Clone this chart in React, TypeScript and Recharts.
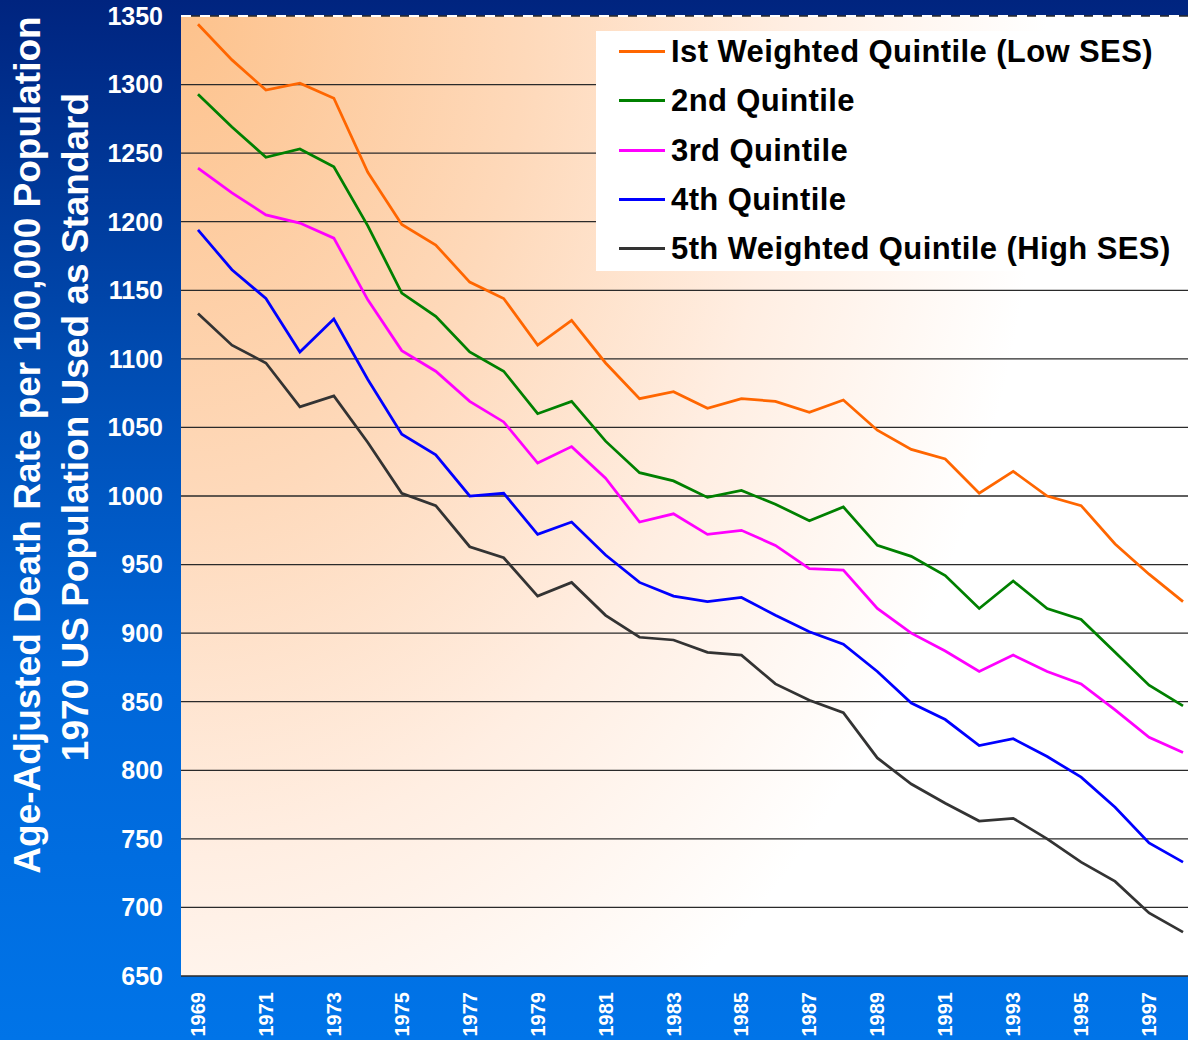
import React from 'react';
import { LineChart, Line, XAxis, YAxis, CartesianGrid, ReferenceLine } from 'recharts';

const years = [1969, 1970, 1971, 1972, 1973, 1974, 1975, 1976, 1977, 1978, 1979, 1980, 1981, 1982, 1983, 1984, 1985, 1986, 1987, 1988, 1989, 1990, 1991, 1992, 1993, 1994, 1995, 1996, 1997, 1998];

const q1 = [1344, 1318, 1296, 1301, 1290, 1236, 1198, 1183, 1156, 1144, 1110, 1128, 1097, 1071, 1076, 1064, 1071, 1069, 1061, 1070, 1048, 1034, 1027, 1002, 1018, 1000, 993, 965, 943, 923];
const q2 = [1293, 1269, 1247, 1253, 1240, 1197, 1148, 1131, 1105, 1091, 1060, 1069, 1040, 1017, 1011, 999, 1004, 994, 982, 992, 964, 956, 942, 918, 938, 918, 910, 886, 862, 847];
const q3 = [1239, 1221, 1205, 1199, 1188, 1143, 1106, 1091, 1069, 1054, 1024, 1036, 1013, 981, 987, 972, 975, 964, 947, 946, 918, 900, 887, 872, 884, 872, 863, 844, 824, 813];
const q4 = [1194, 1165, 1144, 1105, 1129, 1085, 1045, 1030, 1000, 1002, 972, 981, 957, 937, 927, 923, 926, 913, 901, 892, 872, 849, 837, 818, 823, 810, 795, 773, 747, 733];
const q5 = [1133, 1110, 1097, 1065, 1073, 1039, 1002, 993, 963, 955, 927, 937, 913, 897, 895, 886, 884, 863, 851, 842, 809, 790, 776, 763, 765, 750, 733, 719, 696, 682];

const seriesKeys = ['q1', 'q2', 'q3', 'q4', 'q5'];
const seriesNames = [
  'Ist Weighted Quintile (Low SES)',
  '2nd Quintile',
  '3rd Quintile',
  '4th Quintile',
  '5th Weighted Quintile (High SES)',
];
const seriesColors = ['#FF6600', '#008000', '#FF00FF', '#0000FF', '#333333'];

const yTicks = [650, 700, 750, 800, 850, 900, 950, 1000, 1050, 1100, 1150, 1200, 1250, 1300, 1350];
const xLabelYears = [1969, 1971, 1973, 1975, 1977, 1979, 1981, 1983, 1985, 1987, 1989, 1991, 1993, 1995, 1997];
const xDomain = [1968.5, 1998.5];
const xEdgeTicks = years.slice(0, -1).map((y) => y + 0.5);

const seriesValues = [q1, q2, q3, q4, q5];
const data = years.map((year, i) => {
  const row: any = { year };
  seriesKeys.forEach((k, s) => {
    row[k] = seriesValues[s][i];
  });
  return row;
});

const FONT = '"Liberation Sans", Arial, Helvetica, sans-serif';

const XTick = (props: any) => {
  const { x, y, payload } = props;
  return (
    <text
      x={x}
      y={y}
      transform={`rotate(-90, ${x}, ${y})`}
      textAnchor="end"
      dominantBaseline="central"
      fill="#ffffff"
      fontSize={20}
      fontWeight="bold"
      fontFamily={FONT}
    >
      {payload.value}
    </text>
  );
};

export default function App() {
  return (
    <div
      style={{
        position: 'absolute',
        left: 0,
        top: 0,
        width: 1188,
        height: 1040,
        overflow: 'hidden',
        background: 'linear-gradient(to bottom, #00247F 0%, #004CB2 35%, #0066D8 65%, #0074E8 100%)',
        fontFamily: FONT,
      }}
    >
      <svg width={0} height={0} style={{ position: 'absolute' }}>
        <defs>
          <radialGradient id="plotBg" cx="0" cy="0" r="1" gradientTransform="scale(0.85 1.25)">
            <stop offset="0" stopColor="#FDC28C" />
            <stop offset="0.4" stopColor="#FED9BA" />
            <stop offset="0.7" stopColor="#FFEEE2" />
            <stop offset="1" stopColor="#FFFFFF" />
          </radialGradient>
        </defs>
      </svg>

      <div style={{ position: 'absolute', left: 0, top: 0 }}>
        <LineChart width={1200} height={1040} data={data} margin={{ top: 16, right: 0, bottom: 0, left: 81 }}>
          <CartesianGrid
            xAxisId="main"
            yAxisId="main"
            vertical={false}
            stroke="#2a2a2a"
            strokeWidth={1.3}
            fill="url(#plotBg)"
            fillOpacity={1}
          />
          <XAxis
            xAxisId="edge"
            type="number"
            dataKey="year"
            domain={xDomain}
            ticks={xEdgeTicks}
            tick={false}
            tickSize={8}
            mirror
            height={0}
            axisLine={{ stroke: '#000', strokeWidth: 2.5 }}
            tickLine={{ stroke: '#000', strokeWidth: 1.3 }}
          />
          <XAxis
            xAxisId="main"
            type="number"
            dataKey="year"
            domain={xDomain}
            ticks={xLabelYears}
            interval={0}
            height={64}
            axisLine={false}
            tickLine={false}
            tickMargin={10}
            tick={<XTick />}
          />
          <YAxis
            yAxisId="edge"
            type="number"
            domain={[650, 1350]}
            ticks={yTicks}
            tick={false}
            tickSize={8}
            mirror
            width={0}
            axisLine={{ stroke: '#000', strokeWidth: 2.5 }}
            tickLine={{ stroke: '#000', strokeWidth: 1.3 }}
          />
          <YAxis
            yAxisId="main"
            type="number"
            domain={[650, 1350]}
            ticks={yTicks}
            interval={0}
            width={100}
            axisLine={false}
            tickLine={false}
            tickMargin={12}
            tick={{ fill: '#ffffff', fontSize: 25, fontWeight: 'bold', fontFamily: FONT }}
          />
          <ReferenceLine
            xAxisId="main"
            yAxisId="main"
            y={1350}
            stroke="#ffffff"
            strokeWidth={2}
            strokeDasharray="10 9"
          />
          {seriesKeys.map((k, s) => (
            <Line
              key={k}
              xAxisId="main"
              yAxisId="main"
              type="linear"
              dataKey={k}
              name={seriesNames[s]}
              stroke={seriesColors[s]}
              strokeWidth={2.75}
              dot={false}
              activeDot={false}
              isAnimationActive={false}
            />
          ))}
        </LineChart>
      </div>

      {/* Legend */}
      <div
        style={{
          position: 'absolute',
          left: 596,
          top: 31,
          width: 600,
          height: 240,
          background: '#ffffff',
          overflow: 'hidden',
        }}
      >
        <div style={{ position: 'relative', top: -4 }}>
          {seriesNames.map((name, s) => (
            <div key={name} style={{ height: 49.3, display: 'flex', alignItems: 'center' }}>
              <div style={{ width: 23 }} />
              <div style={{ width: 46, height: 3, background: seriesColors[s] }} />
              <div
                style={{
                  marginLeft: 6,
                  fontSize: 31,
                  fontWeight: 'bold',
                  color: '#000',
                  letterSpacing: 0.4,
                  whiteSpace: 'nowrap',
                  lineHeight: '49px',
                }}
              >
                {name}
              </div>
            </div>
          ))}
        </div>
      </div>

      {/* Y axis title, two lines */}
      <div
        style={{
          position: 'absolute',
          left: 28 - 500,
          top: 445 - 22,
          width: 1000,
          height: 44,
          lineHeight: '44px',
          textAlign: 'center',
          transform: 'rotate(-90deg)',
          color: '#ffffff',
          fontWeight: 'bold',
          fontSize: 37,
          whiteSpace: 'nowrap',
        }}
      >
        Age-Adjusted Death Rate per 100,000 Population
      </div>
      <div
        style={{
          position: 'absolute',
          left: 76 - 500,
          top: 427 - 22,
          width: 1000,
          height: 44,
          lineHeight: '44px',
          textAlign: 'center',
          transform: 'rotate(-90deg)',
          color: '#ffffff',
          fontWeight: 'bold',
          fontSize: 37,
          whiteSpace: 'nowrap',
        }}
      >
        1970 US Population Used as Standard
      </div>
    </div>
  );
}
